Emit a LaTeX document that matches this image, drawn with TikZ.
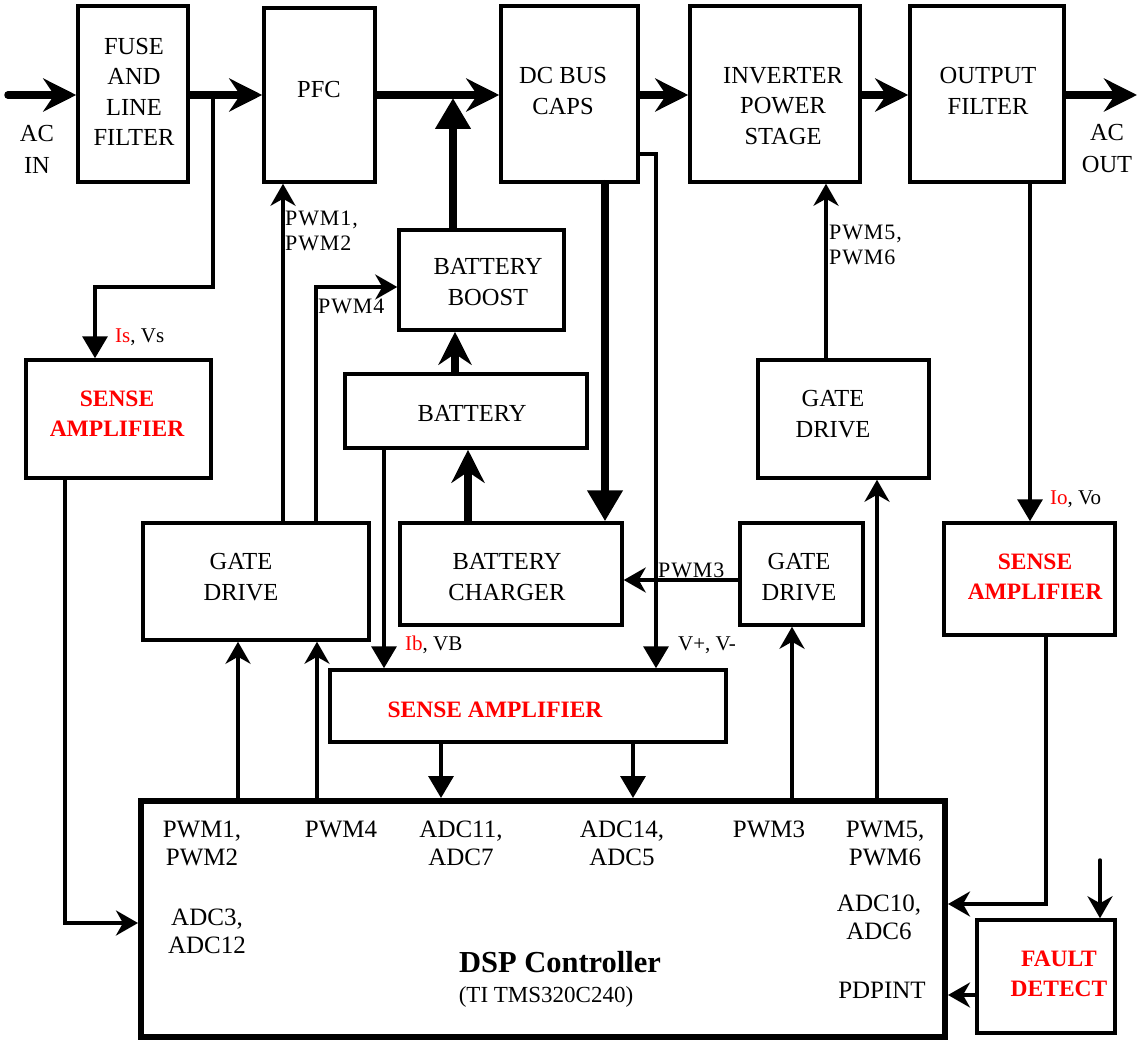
\documentclass[tikz,border=0pt]{standalone}
\usepackage{fontspec}
\setmainfont{Liberation Serif}
\usetikzlibrary{arrows.meta}
\definecolor{sred}{RGB}{255,0,0}
\begin{document}
\begin{tikzpicture}[x=1pt,y=-1pt,
  box/.style={draw, line width=3.5pt, inner sep=0pt},
  dspbox/.style={draw, line width=6pt, inner sep=0pt},
  txt/.style={font=\fontsize{24.5}{30.5}\selectfont, align=center, inner sep=0pt},
  dtxt/.style={font=\fontsize{25}{28}\selectfont, align=center, inner sep=0pt},
  redtxt/.style={font=\bfseries\fontsize{23.5}{30}\selectfont, text=sred, align=center, inner sep=0pt},
  lbl/.style={font=\fontsize{21}{25}\selectfont, align=left, anchor=west, inner sep=0pt},
  pwmlbl/.style={font=\fontsize{22}{25}\selectfont\addfontfeature{LetterSpace=4}, align=left, anchor=west, inner sep=0pt},
  power/.style={line width=7.5pt, line cap=round},
  sig/.style={line width=3.5pt, line cap=round},
  PS/.tip={Stealth[length=33pt,width=33pt,inset=11pt]},
  PT/.tip={Triangle[length=31pt,width=34pt]},
  SS/.tip={Stealth[length=22pt,width=25pt,inset=7pt]},
  ST/.tip={Triangle[length=22pt,width=25pt]},
]
\useasboundingbox (0,0) rectangle (1139,1040);

% boxes
\node[box, minimum width=110pt, minimum height=176pt] (fuse) at (133,94) {};
\node[box, minimum width=111pt, minimum height=174pt] (pfc) at (319.5,95) {};
\node[box, minimum width=137pt, minimum height=176pt] (dc) at (569.5,94) {};
\node[box, minimum width=170pt, minimum height=176pt] (inv) at (775,94) {};
\node[box, minimum width=154pt, minimum height=176pt] (of) at (987,94) {};
\node[box, minimum width=165pt, minimum height=100pt] (boost) at (481.5,280) {};
\node[box, minimum width=242pt, minimum height=74pt] (bat) at (466,411) {};
\node[box, minimum width=222pt, minimum height=102pt] (charger) at (511,574) {};
\node[box, minimum width=226pt, minimum height=117pt] (gd1) at (256,581.5) {};
\node[box, minimum width=185pt, minimum height=118pt] (sa1) at (118.5,419) {};
\node[box, minimum width=396pt, minimum height=72pt] (sa2) at (528,706) {};
\node[box, minimum width=123pt, minimum height=102pt] (gd3) at (801.5,574) {};
\node[box, minimum width=171pt, minimum height=118pt] (gd2) at (843.5,419) {};
\node[box, minimum width=171pt, minimum height=112pt] (sa3) at (1029.5,579) {};
\node[dspbox, minimum width=804pt, minimum height=236pt] (dsp) at (543,919) {};
\node[box, minimum width=138pt, minimum height=113pt] (fault) at (1046,976.5) {};

% box texts
\node[txt] (fuse-t) at (134,92) {FUSE\\AND\\LINE\\FILTER};
\node[txt] (pfc-t) at (319,90) {PFC};
\node[txt] (dc-t) at (563,91) {DC BUS\\CAPS};
\node[txt] (inv-t) at (783,106) {INVERTER\\POWER\\STAGE};
\node[txt] (of-t) at (988,91) {OUTPUT\\FILTER};
\node[txt] (boost-t) at (488,282) {BATTERY\\BOOST};
\node[txt] (bat-t) at (472,413) {BATTERY};
\node[txt] (charger-t) at (507,577) {BATTERY\\CHARGER};
\node[txt] (gd1-t) at (241,577) {GATE\\DRIVE};
\node[redtxt] (sa1-t) at (117,414) {SENSE\\AMPLIFIER};
\node[redtxt] (sa2-t) at (495,710) {SENSE AMPLIFIER};
\node[txt] (gd3-t) at (799,577) {GATE\\DRIVE};
\node[txt] (gd2-t) at (833,414) {GATE\\DRIVE};
\node[redtxt] (sa3-t) at (1035,577) {SENSE\\AMPLIFIER};
\node[redtxt] (fault-t) at (1059,974) {FAULT\\DETECT};

% outside labels
\node[txt, font=\fontsize{24.5}{32}\selectfont] (acin-t) at (37,149) {AC\\IN};
\node[txt, font=\fontsize{24.5}{32}\selectfont] (acout-t) at (1107,149) {AC\\OUT};
\node[pwmlbl] (pwm12) at (285,230.5) {PWM1,\\PWM2};
\node[pwmlbl] (pwm4) at (318,306) {PWM4};
\node[lbl] (isvs) at (115,337) {\textcolor{sred}{Is}, Vs};
\node[lbl] (ibvb) at (405,645) {\textcolor{sred}{Ib}, VB};
\node[lbl] (vpm) at (678,645) {V+, V-};
\node[pwmlbl] (pwm3) at (658,570) {PWM3};
\node[pwmlbl] (pwm56) at (829,245) {PWM5,\\PWM6};
\node[lbl] (iovo) at (1050,499) {\textcolor{sred}{Io}, Vo};

% DSP texts
\node[dtxt] (d1) at (202,843) {PWM1,\\PWM2};
\node[dtxt] (d2) at (341,829) {PWM4};
\node[dtxt] (d3) at (461,843) {ADC11,\\ADC7};
\node[dtxt] (d4) at (622,843) {ADC14,\\ADC5};
\node[dtxt] (d5) at (769,829) {PWM3};
\node[dtxt] (d6) at (885,843) {PWM5,\\PWM6};
\node[dtxt] (d7) at (207,931) {ADC3,\\ADC12};
\node[dtxt] (d8) at (879,917) {ADC10,\\ADC6};
\node[dtxt] (d9) at (882,990) {PDPINT};
\node[font=\bfseries\fontsize{30.5}{34}\selectfont, inner sep=0pt] (dsp-t) at (560,962) {DSP Controller};
\node[font=\fontsize{23}{28}\selectfont, inner sep=0pt] (dsp-s) at (546,997) {(TI TMS320C240)};

% helper coordinates
\coordinate (row) at (0,95);
\coordinate (acin) at (8,95);
\coordinate (acout) at (1137,95);
\coordinate (j1) at (213,95);
\coordinate (c1) at (95,287);
\coordinate (btip) at (453,98);
\coordinate (dcx) at (605,0);
\coordinate (v1) at (656,154);
\coordinate (p3) at (0,580);
\coordinate (x283) at (283,0);
\coordinate (p4) at (316,287);
\coordinate (x455) at (455,0);
\coordinate (x468) at (468,0);
\coordinate (x384) at (384,0);
\coordinate (x238) at (238,0);
\coordinate (x317) at (317,0);
\coordinate (x440) at (441,0);
\coordinate (x632) at (633,0);
\coordinate (x792) at (792,0);
\coordinate (x877) at (877,0);
\coordinate (x826) at (826,0);
\coordinate (x1030) at (1030,0);
\coordinate (r1) at (1046,904);
\coordinate (fin) at (1100,860);
\coordinate (y995) at (0,995);
\coordinate (l1) at (65,923);

% power path
\draw[power,-PS] (acin) -- (fuse.west |- row);
\draw[power,-PS] (fuse.east |- row) -- (pfc.west |- row);
\draw[power,-PS] (pfc.east |- row) -- (dc.west |- row);
\draw[power,-PS] (dc.east |- row) -- (inv.west |- row);
\draw[power,-PS] (inv.east |- row) -- (of.west |- row);
\draw[power,-PS] (of.east |- row) -- (acout);
\draw[power,-PT] (boost.north -| btip) -- (btip);
\draw[power,-PT] (dc.south -| dcx) -- (charger.north -| dcx);
\draw[power,-PS] (bat.north -| x455) -- (boost.south -| x455);
\draw[power,-PS] (charger.north -| x468) -- (bat.south -| x468);

% signals
\draw[sig,-ST] (j1) |- (c1) -- (c1 |- sa1.north);
\draw[sig,-ST] (dc.east |- v1) -| (v1 |- sa2.north);
\draw[sig,-SS] (gd3.west |- p3) -- (charger.east |- p3);
\draw[sig,-SS] (gd1.north -| x283) -- (pfc.south -| x283);
\draw[sig,-SS] (gd1.north -| p4) |- (boost.west |- p4);
\draw[sig,-ST] (bat.south -| x384) -- (sa2.north -| x384);
\draw[sig,-SS] (dsp.north -| x238) -- (gd1.south -| x238);
\draw[sig,-SS] (dsp.north -| x317) -- (gd1.south -| x317);
\draw[sig,-ST] (sa2.south -| x440) -- (dsp.north -| x440);
\draw[sig,-ST] (sa2.south -| x632) -- (dsp.north -| x632);
\draw[sig,-SS] (dsp.north -| x792) -- (gd3.south -| x792);
\draw[sig,-SS] (dsp.north -| x877) -- (gd2.south -| x877);
\draw[sig,-SS] (gd2.north -| x826) -- (inv.south -| x826);
\draw[sig,-ST] (of.south -| x1030) -- (sa3.north -| x1030);
\draw[sig,-SS] (sa3.south -| r1) |- (dsp.east |- r1);
\draw[sig,-SS] (fin) -- (fault.north -| fin);
\draw[sig,-SS] (fault.west |- y995) -- (dsp.east |- y995);
\draw[sig,-SS] (sa1.south -| l1) |- (dsp.west |- l1);
\end{tikzpicture}
\end{document}
